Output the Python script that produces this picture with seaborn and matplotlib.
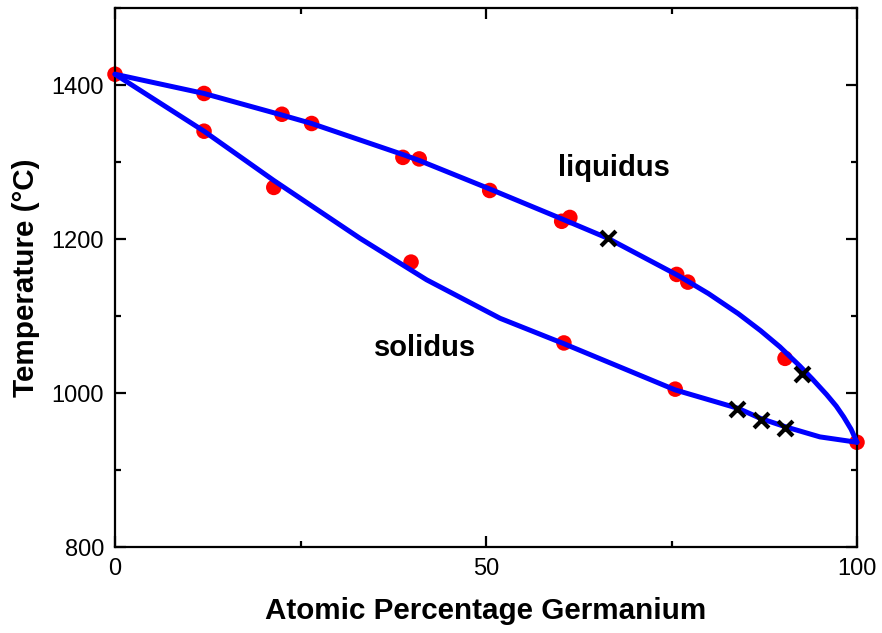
import matplotlib
matplotlib.use("Agg")
import matplotlib.pyplot as plt
import seaborn as sns
import pandas as pd
from matplotlib.ticker import MultipleLocator

# Curves
liq_x = [0, 12, 22.5, 26.5, 39, 41, 50.5, 60, 66.4, 76, 80, 84, 87, 89.6, 92.3, 94, 95.9, 97.2, 98.2, 99.2, 100]
liq_y = [1414, 1389, 1361, 1350, 1309, 1302, 1265, 1227, 1201, 1152, 1129, 1103, 1081, 1060, 1035, 1018, 998, 983, 969, 953, 936]
sol_x = [0, 12, 21.4, 33, 42, 51.9, 60.5, 75.5, 84, 87, 90.4, 95, 100]
sol_y = [1414, 1340, 1276, 1201, 1147, 1097, 1064, 1004, 980, 967, 956, 943, 936]

# Measured points (red circles)
pts_x = [0, 12, 22.5, 26.5, 38.8, 41.0, 50.5, 60.2, 61.3, 75.7, 77.2, 90.3, 100,
         12, 21.4, 39.9, 60.5, 75.5]
pts_y = [1414, 1389, 1362, 1350, 1306, 1304, 1263, 1223, 1228, 1154, 1144, 1045, 936,
         1340, 1267, 1170, 1065, 1005]

# Cross markers
crs_x = [66.4, 92.6, 83.8, 87.1, 90.3]
crs_y = [1201, 1025, 979, 965, 954]

sns.set_style("ticks")
plt.rcParams['font.family'] = ['Liberation Sans', 'DejaVu Sans']
plt.rcParams['text.color'] = 'black'

fig = plt.figure(figsize=(8.82, 6.33), dpi=100)
ax = fig.add_axes([115/882, 1-547/633, (857-115)/882, (547-8)/633])

pts = pd.DataFrame({"x": pts_x, "y": pts_y})
sns.scatterplot(data=pts, x="x", y="y", ax=ax, color="#ff0000", s=125,
                edgecolor="none", zorder=2, clip_on=False)

liq = pd.DataFrame({"x": liq_x, "y": liq_y})
sol = pd.DataFrame({"x": sol_x, "y": sol_y})
sns.lineplot(data=liq, x="x", y="y", ax=ax, sort=False, color="#0000ff",
             linewidth=3.6, zorder=3, clip_on=False)
sns.lineplot(data=sol, x="x", y="y", ax=ax, sort=False, color="#0000ff",
             linewidth=3.6, zorder=3, clip_on=False)

crs = pd.DataFrame({"x": crs_x, "y": crs_y})
sns.scatterplot(data=crs, x="x", y="y", ax=ax, marker="x", color="black",
                s=115, linewidth=3, zorder=4)

ax.set_xlim(0, 100)
ax.set_ylim(800, 1500)
ax.xaxis.set_major_locator(MultipleLocator(50))
ax.xaxis.set_minor_locator(MultipleLocator(25))
ax.yaxis.set_major_locator(MultipleLocator(200))
ax.yaxis.set_minor_locator(MultipleLocator(100))
ax.tick_params(which="both", direction="in", top=True, right=True, width=1.6,
               labelsize=17, colors="black")
ax.tick_params(which="major", length=8, pad=8)
ax.tick_params(which="minor", length=4.5)
for s in ax.spines.values():
    s.set_linewidth(1.6)
    s.set_color("black")

ax.set_xlabel("Atomic Percentage Germanium", fontsize=21.3, fontweight="bold",
              labelpad=12, color="black")
ax.set_ylabel("Temperature (°C)", fontsize=21.3, fontweight="bold",
              labelpad=8, color="black")

ax.text(67.2, 1282, "liquidus", fontsize=21, fontweight="bold", ha="center",
        va="baseline", color="black")
ax.text(41.8, 1048, "solidus", fontsize=21, fontweight="bold", ha="center",
        va="baseline", color="black")

fig.savefig("out.png", dpi=100)
